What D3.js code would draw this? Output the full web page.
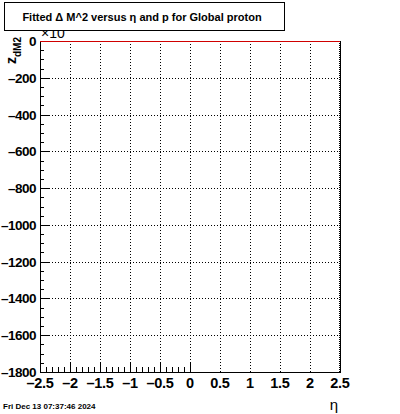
<!DOCTYPE html>
<html>
<head>
<meta charset="utf-8">
<script src="https://cdn.jsdelivr.net/npm/d3@7"></script>
<style>
  body { margin: 0; background: #fff; }
  svg { font-family: "Liberation Sans", Arial, sans-serif; }
</style>
</head>
<body>
<script>
// axis ranges and tick values
const xDomain = [-2.5, 2.5];
const yDomain = [-1800, 0];
const xTicks = [-2.5, -2, -1.5, -1, -0.5, 0, 0.5, 1, 1.5, 2, 2.5];
const yTicks = [0, -200, -400, -600, -800, -1000, -1200, -1400, -1600, -1800];
// fitted histogram content (empty: every bin sits at 0)
const lineX = [-2.5, 2.5];
const lineY = [0, 0];

const titleText = 'Fitted \u0394 M^2 versus \u03b7 and p for Global proton';
const dateText = 'Fri Dec 13 07:37:46 2024';

const width = 400, height = 414;
const margin = { top: 41, right: 60, bottom: 42, left: 40 };
const w = width - margin.left - margin.right;
const h = height - margin.top - margin.bottom;

const svg = d3.select('body').append('svg')
  .attr('width', width)
  .attr('height', height);

const xScale = d3.scaleLinear().domain(xDomain).range([0, w]);
const yScale = d3.scaleLinear().domain(yDomain).range([h, 0]);

const fmt = (d) => String(d).replace('-', '\u2013');

const g = svg.append('g')
  .attr('transform', 'translate(' + margin.left + ',' + margin.top + ')');

// dotted grid
g.append('g')
  .selectAll('line')
  .data(xTicks.slice(1, -1))
  .enter()
  .append('line')
  .attr('x1', (d) => Math.round(xScale(d)) + 0.5)
  .attr('x2', (d) => Math.round(xScale(d)) + 0.5)
  .attr('y1', 0)
  .attr('y2', h)
  .attr('stroke', '#000')
  .attr('stroke-dasharray', '1,2');

g.append('g')
  .selectAll('line')
  .data(yTicks.slice(1, -1))
  .enter()
  .append('line')
  .attr('y1', (d) => Math.round(yScale(d)) + 0.5)
  .attr('y2', (d) => Math.round(yScale(d)) + 0.5)
  .attr('x1', 0)
  .attr('x2', w)
  .attr('stroke', '#000')
  .attr('stroke-dasharray', '1,2');

// bottom axis: major + minor ticks pointing up
const xMinor = d3.range(0, 26).map((i) => -2.5 + i * 0.1);
g.append('g')
  .selectAll('line')
  .data(xMinor)
  .enter()
  .append('line')
  .attr('x1', (d) => Math.round(xScale(d)) + 0.5)
  .attr('x2', (d) => Math.round(xScale(d)) + 0.5)
  .attr('y1', h)
  .attr('y2', (d, i) => h - (i % 5 === 0 ? 9 : 5))
  .attr('stroke', '#000');

// left axis: major + minor ticks pointing right
const yMinor = d3.range(0, 37).map((i) => -i * 50);
g.append('g')
  .selectAll('line')
  .data(yMinor)
  .enter()
  .append('line')
  .attr('y1', (d) => Math.round(yScale(d)) + 0.5)
  .attr('y2', (d) => Math.round(yScale(d)) + 0.5)
  .attr('x1', 0)
  .attr('x2', (d, i) => (i % 4 === 0 ? 9 : 4))
  .attr('stroke', '#000');

// frame lines
g.append('line')
  .attr('x1', 0.5).attr('x2', 0.5).attr('y1', 0).attr('y2', h)
  .attr('stroke', '#000');
g.append('line')
  .attr('x1', 0).attr('x2', w).attr('y1', h + 0.5).attr('y2', h + 0.5)
  .attr('stroke', '#000');
g.append('line')
  .attr('x1', w + 0.5).attr('x2', w + 0.5).attr('y1', 0).attr('y2', h + 1)
  .attr('stroke', '#000');
g.append('line')
  .attr('x1', w - 0.5).attr('x2', w - 0.5).attr('y1', 0).attr('y2', h)
  .attr('stroke', '#000')
  .attr('stroke-dasharray', '1,1');

// histogram line (red)
g.append('path')
  .datum(lineX.map((x, i) => [x, lineY[i]]))
  .attr('d', d3.line().x((d) => xScale(d[0])).y((d) => yScale(d[1]) + 0.5))
  .attr('fill', 'none')
  .attr('stroke', '#d00000')
  .attr('stroke-width', 1);

// tick labels
g.append('g')
  .selectAll('text')
  .data(xTicks)
  .enter()
  .append('text')
  .attr('x', (d) => xScale(d))
  .attr('y', h + 16)
  .attr('text-anchor', 'middle')
  .attr('font-size', 14.5)
  .attr('font-weight', 'bold')
  .attr('letter-spacing', -0.3)
  .text(fmt);

g.append('g')
  .selectAll('text')
  .data(yTicks)
  .enter()
  .append('text')
  .attr('x', -4)
  .attr('y', (d) => yScale(d) + 5)
  .attr('text-anchor', 'end')
  .attr('font-size', 13.5)
  .attr('font-weight', 'bold')
  .attr('letter-spacing', -0.5)
  .text(fmt);

// exponent label
svg.append('text')
  .attr('x', 41)
  .attr('y', 38)
  .attr('font-size', 14)
  .text('\u00d710');

// y axis title z_dM2
const ylab = svg.append('text')
  .attr('transform', 'translate(16,64) rotate(-90)')
  .attr('font-size', 14)
  .attr('font-weight', 'bold');
ylab.append('tspan').text('z');
ylab.append('tspan').attr('font-size', 10).attr('dy', 5).text('dM2');

// x axis title
svg.append('text')
  .attr('x', 334)
  .attr('y', 410)
  .attr('text-anchor', 'middle')
  .attr('font-size', 15)
  .text('\u03b7');

// title box
svg.append('rect')
  .attr('x', 4.5).attr('y', 2.5)
  .attr('width', 280).attr('height', 28)
  .attr('fill', '#fff')
  .attr('stroke', '#000');
svg.append('text')
  .attr('x', 142)
  .attr('y', 21)
  .attr('text-anchor', 'middle')
  .attr('font-size', 11)
  .attr('font-weight', 'bold')
  .text(titleText);

// date stamp
svg.append('text')
  .attr('x', 3)
  .attr('y', 409)
  .attr('font-size', 8)
  .attr('font-weight', 'bold')
  .text(dateText);
</script>
</body>
</html>
